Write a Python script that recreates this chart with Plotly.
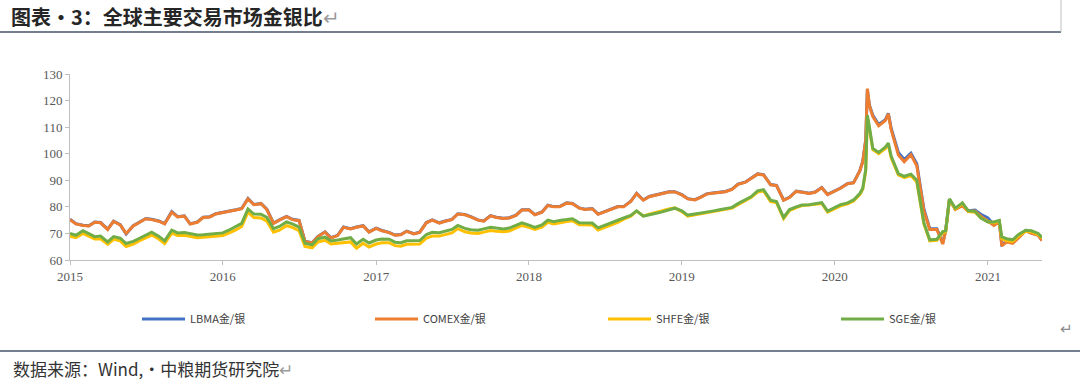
import plotly.graph_objects as go

# ---------------- data ----------------
dates = (
    [f"2015-{m:02d}-{d:02d}" for m in range(1, 13) for d in (1, 15)]
    + [f"2016-{m:02d}-{d:02d}" for m in range(1, 13) for d in (1, 15)]
    + [f"2017-{m:02d}-{d:02d}" for m in range(1, 13) for d in (1, 15)]
    + [f"2018-{m:02d}-{d:02d}" for m in range(1, 13) for d in (1, 15)]
    + [f"2019-{m:02d}-{d:02d}" for m in range(1, 13) for d in (1, 15)]
    + ["2020-01-01", "2020-01-15", "2020-02-01", "2020-02-15", "2020-03-01",
       "2020-03-08", "2020-03-15", "2020-03-19", "2020-03-24", "2020-04-01",
       "2020-04-15", "2020-05-01", "2020-05-08", "2020-05-15", "2020-06-01",
       "2020-06-15", "2020-07-01", "2020-07-15", "2020-08-01", "2020-08-15",
       "2020-09-01", "2020-09-15", "2020-09-22", "2020-10-01", "2020-10-15",
       "2020-11-01", "2020-11-15", "2020-12-01", "2020-12-15"]
    + ["2021-01-01", "2021-01-15", "2021-01-28", "2021-02-03", "2021-02-15",
       "2021-03-01", "2021-03-15", "2021-04-01", "2021-04-15", "2021-05-01",
       "2021-05-10"]
)

comex = [
    # 2015
    75.2, 73.6, 73.0, 72.8, 74.2, 74.0, 71.5, 74.5, 73.2, 70.0, 72.8, 74.2,
    75.5, 75.2, 74.6, 73.6, 78.0, 76.2, 76.5, 73.5, 74.2, 76.0, 76.2, 77.3,
    # 2016
    77.8, 78.1, 78.8, 79.3, 83.0, 80.8, 81.2, 79.0, 73.8, 75.0, 76.3, 75.2,
    74.8, 67.0, 66.4, 68.8, 70.5, 68.3, 69.2, 72.3, 71.7, 72.3, 72.8, 70.5,
    # 2017
    71.9, 71.0, 70.3, 69.3, 69.5, 70.8, 69.8, 70.4, 74.0, 75.0, 73.9, 74.6,
    75.2, 77.3, 77.0, 76.2, 75.0, 74.6, 76.6, 76.0, 75.6, 75.8, 76.8, 78.8,
    # 2018
    78.8, 77.0, 78.0, 80.5, 80.0, 80.0, 81.4, 81.2, 79.5, 79.0, 79.3, 77.2,
    78.1, 78.8, 80.0, 80.0, 82.0, 85.0, 82.5, 83.8, 84.5, 85.0, 85.6, 85.6,
    # 2019
    84.5, 83.0, 82.6, 83.6, 84.8, 85.1, 85.4, 85.7, 86.6, 88.5, 89.2, 90.5,
    92.3, 92.0, 88.3, 88.0, 82.5, 83.5, 85.8, 85.5, 85.0, 85.5, 87.2, 84.6,
    # 2020
    85.8, 87.0, 88.7, 89.0, 93.5, 97.0, 105.0, 124.5, 118.0, 114.0,
    110.5, 112.5, 115.0, 109.0, 99.5, 97.0, 99.6, 95.5, 78.5, 71.5,
    71.5, 66.0, 71.0, 82.8, 79.0, 80.4, 78.3, 78.4, 76.5,
    # 2021
    74.6, 73.0, 74.3, 65.3, 66.8, 66.3, 68.3, 71.0, 70.0, 69.3, 67.3,
]

lbma = [
    # 2015
    75.4, 73.7, 73.1, 72.9, 74.3, 74.1, 71.6, 74.6, 73.3, 69.8, 72.9, 74.3,
    75.6, 75.3, 74.7, 73.7, 78.2, 76.3, 76.6, 73.6, 74.3, 76.1, 76.3, 77.4,
    # 2016
    77.9, 78.2, 78.9, 79.4, 83.2, 80.9, 81.3, 79.1, 73.9, 75.1, 76.4, 75.3,
    74.9, 67.1, 66.5, 68.9, 70.6, 68.4, 69.3, 72.4, 71.8, 72.4, 72.9, 70.6,
    # 2017
    72.0, 71.1, 70.4, 69.4, 69.6, 70.9, 69.9, 70.5, 74.1, 75.1, 74.0, 74.7,
    75.3, 77.4, 77.1, 76.3, 75.1, 74.7, 76.7, 76.1, 75.7, 75.9, 76.9, 78.9,
    # 2018
    78.9, 77.1, 78.1, 80.6, 80.1, 80.1, 81.5, 81.3, 79.6, 79.1, 79.4, 77.3,
    78.2, 78.9, 80.1, 80.1, 82.1, 85.1, 82.6, 83.9, 84.6, 85.1, 85.7, 85.7,
    # 2019
    84.6, 83.1, 82.7, 83.7, 84.9, 85.2, 85.5, 85.8, 86.7, 88.6, 89.3, 90.6,
    92.4, 92.1, 88.4, 88.1, 82.6, 83.6, 85.9, 85.6, 85.1, 85.6, 87.3, 84.7,
    # 2020
    85.9, 87.1, 88.8, 89.1, 93.6, 97.2, 105.2, 124.0, 118.2, 114.5,
    111.0, 112.8, 115.2, 109.5, 100.5, 97.8, 100.2, 96.2, 79.2, 71.8,
    71.8, 66.4, 71.2, 82.8, 79.2, 80.6, 78.5, 78.8, 77.2,
    # 2021
    75.8, 73.3, 74.5, 65.8, 67.0, 66.6, 68.5, 71.1, 70.1, 69.4, 67.4,
]

sge = [
    # 2015
    70.0, 69.3, 71.0, 69.8, 68.8, 69.0, 66.8, 68.8, 68.2, 66.2, 67.0, 68.1,
    69.4, 70.5, 68.9, 67.2, 71.2, 70.2, 70.3, 69.8, 69.4, 69.5, 69.7, 69.9,
    # 2016
    70.2, 71.2, 72.5, 73.8, 79.2, 77.3, 77.2, 76.0, 71.8, 72.6, 74.3, 73.6,
    72.4, 66.3, 65.7, 68.0, 68.6, 67.2, 67.5, 67.8, 68.4, 66.0, 67.8, 66.4,
    # 2017
    67.5, 67.9, 67.8, 66.7, 66.5, 67.2, 67.3, 67.3, 69.6, 70.4, 70.3, 70.8,
    71.5, 73.0, 71.9, 71.4, 71.2, 71.7, 72.3, 72.0, 71.7, 72.0, 73.0, 74.0,
    # 2018
    73.1, 72.3, 73.2, 75.0, 74.4, 74.9, 75.2, 75.5, 74.0, 74.0, 73.9, 72.1,
    73.0, 73.8, 74.8, 75.8, 76.8, 78.5, 76.5, 76.9, 77.6, 78.1, 78.8, 79.5,
    # 2019
    78.5, 76.9, 77.3, 77.6, 77.9, 78.4, 78.9, 79.4, 79.8, 81.2, 82.6, 83.8,
    86.0, 86.5, 82.5, 82.0, 76.0, 79.0, 80.0, 80.7, 80.8, 81.2, 81.6, 78.4,
    # 2020
    79.6, 80.8, 81.5, 82.6, 85.0, 87.0, 94.0, 114.5, 110.0, 102.0,
    100.5, 102.5, 104.0, 99.0, 92.5, 91.5, 92.3, 90.0, 74.0, 67.6,
    67.8, 70.7, 71.0, 83.0, 79.5, 81.5, 78.5, 78.3, 75.8,
    # 2021
    74.3, 74.3, 74.9, 68.7, 68.0, 67.6, 69.6, 71.2, 71.0, 70.0, 68.5,
]

shfe = [
    # 2015
    69.0, 68.4, 70.0, 68.8, 67.9, 68.0, 65.9, 67.8, 67.2, 65.1, 66.0, 67.2,
    68.4, 69.4, 67.9, 66.2, 70.1, 69.2, 69.3, 68.8, 68.4, 68.6, 68.8, 69.0,
    # 2016
    69.2, 70.1, 71.3, 72.6, 78.0, 76.0, 75.8, 74.6, 70.5, 71.2, 72.9, 72.3,
    71.0, 65.1, 64.6, 66.8, 67.4, 66.0, 66.2, 66.4, 66.8, 64.4, 66.3, 64.9,
    # 2017
    66.0, 66.5, 66.5, 65.4, 65.2, 65.9, 66.0, 66.0, 68.2, 69.0, 69.0, 69.5,
    70.2, 71.8, 70.6, 70.2, 70.0, 70.5, 71.1, 70.8, 70.6, 70.9, 71.9, 73.0,
    # 2018
    72.3, 71.5, 72.4, 74.2, 73.6, 74.1, 74.5, 74.8, 73.3, 73.3, 73.2, 71.3,
    72.3, 73.1, 74.2, 75.4, 76.5, 78.4, 76.6, 77.2, 78.0, 78.6, 79.2, 79.6,
    # 2019
    78.2, 76.5, 77.0, 77.3, 77.7, 78.2, 78.7, 79.1, 79.5, 80.8, 82.2, 83.5,
    85.6, 86.0, 82.0, 81.6, 75.6, 78.6, 79.7, 80.5, 80.7, 81.1, 81.3, 78.0,
    # 2020
    79.2, 80.4, 81.1, 82.2, 84.6, 86.6, 93.5, 113.5, 109.3, 101.5,
    100.0, 102.0, 103.4, 98.4, 92.0, 91.0, 91.8, 89.4, 73.6, 67.2,
    67.4, 70.2, 70.6, 82.7, 79.2, 81.2, 78.2, 78.0, 75.9,
    # 2021
    74.4, 74.0, 74.6, 68.0, 67.2, 67.0, 69.0, 70.8, 70.6, 69.6, 68.2,
]

year_ticks = ["2015-01-01", "2016-01-01", "2017-01-01", "2018-01-01",
              "2019-01-01", "2020-01-01", "2021-01-01"]
year_labels = ["2015", "2016", "2017", "2018", "2019", "2020", "2021"]

series_names = ["LBMA金/银", "COMEX金/银", "SHFE金/银", "SGE金/银"]
series_values = [lbma, comex, shfe, sge]
series_colors = ["#4472C4", "#ED7D31", "#FFC000", "#70AD47"]

title_text = "图表·3：全球主要交易市场金银比"
source_text = "数据来源：Wind,·中粮期货研究院"

# ---------------- figure ----------------
W, H = 1080, 391
ML, MR, MT, MB = 70, 38, 74, 131
PW, PH = W - ML - MR, H - MT - MB


def px(x):
    return (x - ML) / PW


def py(y):
    return (H - MB - y) / PH


fig = go.Figure()
for name, vals, col in zip(series_names, series_values, series_colors):
    fig.add_trace(go.Scatter(
        x=dates, y=vals, name=name, mode="lines",
        line=dict(color=col, width=3),
    ))

tick_font = dict(family="Liberation Serif, DejaVu Serif, serif", size=13, color="#595959")

fig.update_layout(
    width=W, height=H,
    margin=dict(l=ML, r=MR, t=MT, b=MB, pad=0, autoexpand=False),
    paper_bgcolor="white", plot_bgcolor="white",
    showlegend=True,
    legend=dict(
        orientation="h",
        x=px(137), xanchor="left",
        y=py(319), yanchor="middle",
        itemwidth=43,
        entrywidth=175, entrywidthmode="pixels",
        font=dict(family="Liberation Sans Narrow, Noto Sans CJK SC, sans-serif",
                  size=11, color="#404040"),
        bgcolor="rgba(0,0,0,0)",
        traceorder="normal",
    ),
    xaxis=dict(
        range=["2015-01-01", "2021-05-10"],
        tickmode="array", tickvals=year_ticks, ticktext=year_labels,
        showgrid=False, zeroline=False,
        showline=True, linecolor="#BFBFBF", linewidth=1,
        ticks="outside", ticklen=4, tickcolor="#BFBFBF",
        tickfont=tick_font,
    ),
    yaxis=dict(
        range=[60, 130], dtick=10, tick0=60,
        showgrid=False, zeroline=False,
        showline=True, linecolor="#BFBFBF", linewidth=1,
        ticks="outside", ticklen=4, tickcolor="#BFBFBF",
        tickfont=tick_font,
    ),
)

# title and source text
fig.add_annotation(
    xref="paper", yref="paper", x=px(9), y=py(16), xanchor="left", yanchor="middle",
    text=title_text + '<span style="color:#9a9a9a;font-weight:normal">↵</span>',
    showarrow=False,
    font=dict(family="Noto Sans CJK SC", size=20, color="#262626", weight="bold"),
)
fig.add_annotation(
    xref="paper", yref="paper", x=px(11), y=py(368), xanchor="left", yanchor="middle",
    text=source_text + '<span style="color:#9a9a9a">↵</span>',
    showarrow=False,
    font=dict(family="Noto Sans CJK SC", size=17, color="#333333"),
)
fig.add_annotation(
    xref="paper", yref="paper", x=px(1066), y=py(329), xanchor="center", yanchor="middle",
    text="↵", showarrow=False,
    font=dict(family="DejaVu Sans", size=15, color="#8a8a8a"),
)

# decorative rules
fig.add_shape(type="line", xref="paper", yref="paper",
              x0=px(0), x1=px(1061), y0=py(32), y1=py(32),
              line=dict(color="#44546A", width=1.5))
fig.add_shape(type="line", xref="paper", yref="paper",
              x0=px(1061), x1=px(1061), y0=py(0), y1=py(32),
              line=dict(color="#BFBFBF", width=1))
fig.add_shape(type="line", xref="paper", yref="paper",
              x0=px(0), x1=px(1080), y0=py(351), y1=py(351),
              line=dict(color="#44546A", width=1.5))

fig.write_html(
    "out.html",
    config={"displayModeBar": False},
    post_script="document.body.style.margin='0';document.body.style.overflow='hidden';",
)
